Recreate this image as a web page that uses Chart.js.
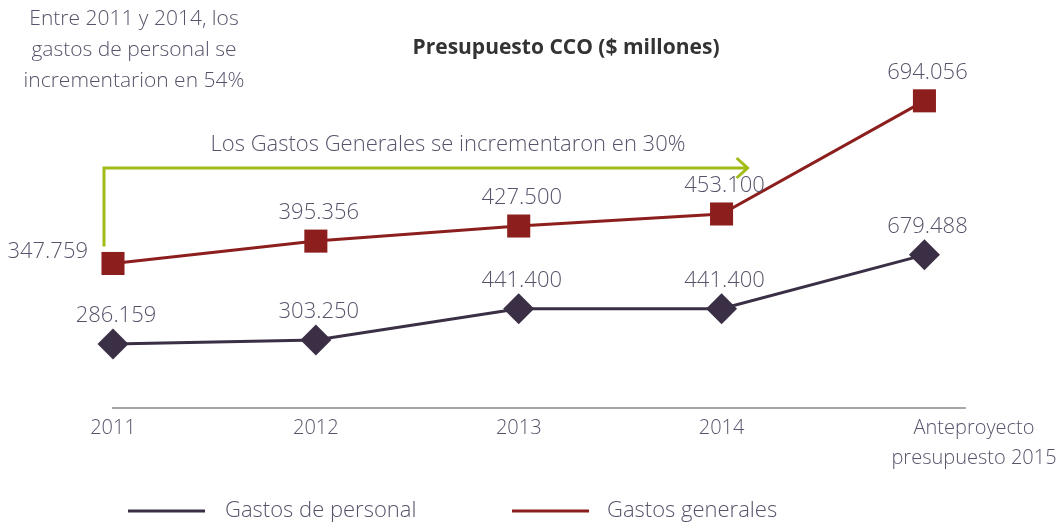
<!DOCTYPE html>
<html>
<head>
<meta charset="utf-8">
<script src="https://cdn.jsdelivr.net/npm/chart.js@4.4.1/dist/chart.umd.min.js"></script>
<style>
  html, body { margin: 0; padding: 0; background: #fff; }
  #wrap { width: 1063px; height: 527px; }
</style>
</head>
<body>
<div id="wrap"><canvas id="presupuesto"></canvas></div>
<script>
var categorias = ["2011", "2012", "2013", "2014", ["Anteproyecto", "presupuesto 2015"]];
var gastosPersonal = [286.159, 303.250, 441.400, 441.400, 679.488];
var gastosGenerales = [347.759, 395.356, 427.500, 453.100, 694.056];
var series = ["Gastos de personal", "Gastos generales"];

var FONT = "'Open Sans', 'DejaVu Sans', sans-serif";
var TXT = '#58536a';

function puntos(vals) {
    return vals.map(function (v, i) { return { x: i, y: v }; });
}

function fmt(v) {
    return v.toFixed(3);
}

// data labels, category labels, annotations and legend
var extras = {
    id: 'extras',
    afterDatasetsDraw: function (chart) {
        var ctx = chart.ctx;
        ctx.save();
        ctx.font = '300 22px ' + FONT;
        ctx.fillStyle = TXT;
        ctx.textBaseline = 'middle';
        chart.data.datasets.forEach(function (ds, di) {
            var meta = chart.getDatasetMeta(di);
            meta.data.forEach(function (pt, i) {
                var v = ds.data[i].y;
                if (di === 1 && i === 0) {
                    ctx.textAlign = 'right';
                    ctx.fillText(fmt(v), pt.x - 25, pt.y - 12);
                } else {
                    ctx.textAlign = 'center';
                    ctx.fillText(fmt(v), pt.x + 3, pt.y - 28);
                }
            });
        });
        ctx.restore();
    },
    afterDraw: function (chart) {
        var ctx = chart.ctx;
        var xs = chart.scales.x;
        var area = chart.chartArea;
        ctx.save();

        // category labels
        ctx.font = '300 20px ' + FONT;
        ctx.fillStyle = TXT;
        ctx.textBaseline = 'middle';
        ctx.textAlign = 'center';
        categorias.forEach(function (c, i) {
            var x = xs.getPixelForValue(i);
            var lines = Array.isArray(c) ? c : [c];
            if (i === categorias.length - 1) {
                x = chart.width - 89;
            }
            lines.forEach(function (l, k) {
                ctx.fillText(l, x, area.bottom + 20 + k * 30);
            });
        });

        // title
        ctx.font = 'bold 21px ' + FONT;
        ctx.fillStyle = '#333333';
        ctx.fillText('Presupuesto CCO ($ millones)', 566, 48);

        // top-left note
        ctx.font = '300 21px ' + FONT;
        ctx.fillStyle = TXT;
        ['Entre 2011 y 2014, los', 'gastos de personal se', 'incrementarion en 54%'].forEach(function (l, k) {
            ctx.fillText(l, 134, 19 + k * 31);
        });

        // arrow annotation
        var p0 = chart.getDatasetMeta(1).data[0];
        var x0 = xs.getPixelForValue(0) - 9;
        var x1 = xs.getPixelForValue(3) + 26;
        var yTop = 168;
        ctx.strokeStyle = '#a3bb14';
        ctx.lineWidth = 3;
        ctx.lineCap = 'butt';
        ctx.beginPath();
        ctx.moveTo(x0, p0.y - 17);
        ctx.lineTo(x0, yTop);
        ctx.lineTo(x1, yTop);
        ctx.stroke();
        ctx.beginPath();
        ctx.moveTo(x1 - 11, yTop - 10);
        ctx.lineTo(x1, yTop);
        ctx.lineTo(x1 - 11, yTop + 10);
        ctx.stroke();
        ctx.font = '300 22px ' + FONT;
        ctx.fillText('Los Gastos Generales se incrementaron en 30%', 448, 145);

        // legend
        var leg = [[128, 225], [512, 607]];
        chart.data.datasets.forEach(function (ds, di) {
            ctx.strokeStyle = ds.borderColor;
            ctx.lineWidth = 3;
            ctx.beginPath();
            ctx.moveTo(leg[di][0], 511);
            ctx.lineTo(leg[di][0] + 77, 511);
            ctx.stroke();
            ctx.textAlign = 'left';
            ctx.fillStyle = TXT;
            ctx.fillText(ds.label, leg[di][1], 511);
        });
        ctx.restore();
    }
};

var ctx = document.getElementById('presupuesto').getContext('2d');
var chart = new Chart(ctx, {
    type: 'line',
    data: {
        datasets: [{
            label: series[0],
            data: puntos(gastosPersonal),
            yAxisID: 'yP',
            borderColor: '#3b2f45',
            backgroundColor: '#3b2f45',
            borderWidth: 3,
            pointStyle: 'rectRot',
            pointRadius: 15.5,
            pointBorderWidth: 0,
            tension: 0,
            clip: false
        }, {
            label: series[1],
            data: puntos(gastosGenerales),
            yAxisID: 'yG',
            borderColor: '#8c1f1d',
            backgroundColor: '#8c1f1d',
            borderWidth: 3,
            pointStyle: 'rect',
            pointRadius: 16.3,
            pointBorderWidth: 0,
            tension: 0,
            clip: false
        }]
    },
    options: {
        responsive: true,
        maintainAspectRatio: false,
        animation: false,
        layout: { padding: { left: 113, right: 98, top: 60, bottom: 119 } },
        plugins: {
            legend: { display: false },
            tooltip: { enabled: false }
        },
        scales: {
            x: {
                type: 'linear',
                min: 0,
                max: 4.2,
                grid: { display: false, drawTicks: false },
                ticks: { display: false },
                border: { display: true, color: '#a6a6a6', width: 2 }
            },
            yP: { type: 'linear', display: false, min: 3, max: 1540 },
            yG: { type: 'linear', display: false, min: 40, max: 781 }
        }
    },
    plugins: [extras]
});
</script>
</body>
</html>
